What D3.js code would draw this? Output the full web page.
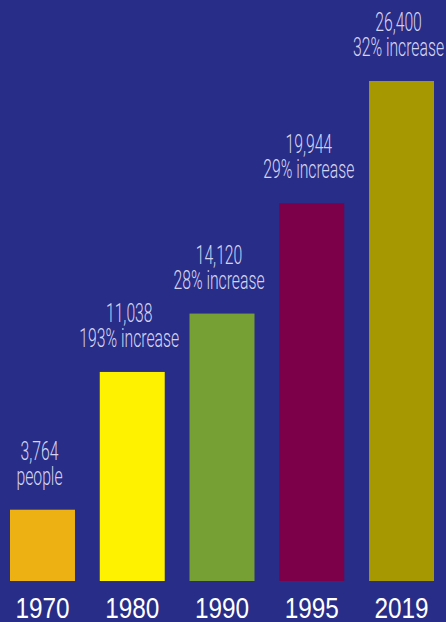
<!DOCTYPE html>
<html>
<head>
<meta charset="utf-8">
<script src="https://cdn.jsdelivr.net/npm/d3@7"></script>
<style>
  html, body { margin: 0; padding: 0; background: #282d87; }
  #graf { width: 446px; height: 622px; overflow: hidden; }
  .etiqueta { font-family: Roboto, 'Liberation Sans', sans-serif; font-weight: 300; fill: #d4d4f2; }
  .ejes text { font-family: 'Liberation Sans', Arial, sans-serif; fill: #ffffff; }
</style>
</head>
<body>
<div id="graf"></div>
<script>
// !DATOS
const years = ['1970', '1980', '1990', '1995', '2019']
const values = [3764, 11038, 14120, 19944, 26400]
const notes = ['people', '193% increase', '28% increase', '29% increase', '32% increase']

const anchoTotal = 446
const altoTotal = 622

const svg = d3
  .select('#graf')
  .append('svg')
  .attr('width', anchoTotal)
  .attr('height', altoTotal)

svg.append('rect')
  .attr('width', anchoTotal)
  .attr('height', altoTotal)
  .attr('fill', '#282d87')

// !ESCALADORES
const x = d3.scaleBand().domain(years).range([10, 434]).paddingInner(0.276).paddingOuter(0)
const y = d3.scaleLinear().domain([0, 26400]).range([581, 81])
const color = d3
  .scaleOrdinal()
  .domain(years)
  .range(['#edb114', '#fff200', '#77a034', '#7b0049', '#a69800'])

const datos = years.map((yr, i) => ({ year: yr, value: values[i], note: notes[i] }))

// barras
svg.selectAll('rect.barra')
  .data(datos)
  .enter()
  .append('rect')
  .attr('class', 'barra')
  .attr('x', (d) => x(d.year))
  .attr('y', (d) => y(d.value))
  .attr('width', x.bandwidth())
  .attr('height', (d) => y(0) - y(d.value))
  .attr('fill', (d) => color(d.year))

// etiquetas encima de las barras (texto condensado)
const fmt = d3.format(',d')
const etiquetas = svg.selectAll('g.etiqueta')
  .data(datos)
  .enter()
  .append('g')
  .attr('class', 'etiqueta')
  .attr('transform', (d) => `translate(${x(d.year) + x.bandwidth() / 2 - 3}, ${y(d.value)}) scale(0.63, 1)`)

etiquetas.append('text')
  .attr('y', -50)
  .attr('text-anchor', 'middle')
  .attr('font-size', 25)
  .text((d) => fmt(d.value))

etiquetas.append('text')
  .attr('y', -25)
  .attr('text-anchor', 'middle')
  .attr('font-size', 25)
  .text((d) => d.note)

// eje de años
const eje = svg.append('g')
  .attr('class', 'ejes')
  .attr('transform', 'translate(0, 590)')
  .call(d3.axisBottom(x).tickSize(0).tickPadding(0))

eje.select('.domain').remove()
eje.selectAll('text')
  .attr('font-size', 29)
  .attr('dy', 0)
  .attr('y', 28)
  .attr('transform', 'scale(0.84, 1)')
</script>
</body>
</html>
